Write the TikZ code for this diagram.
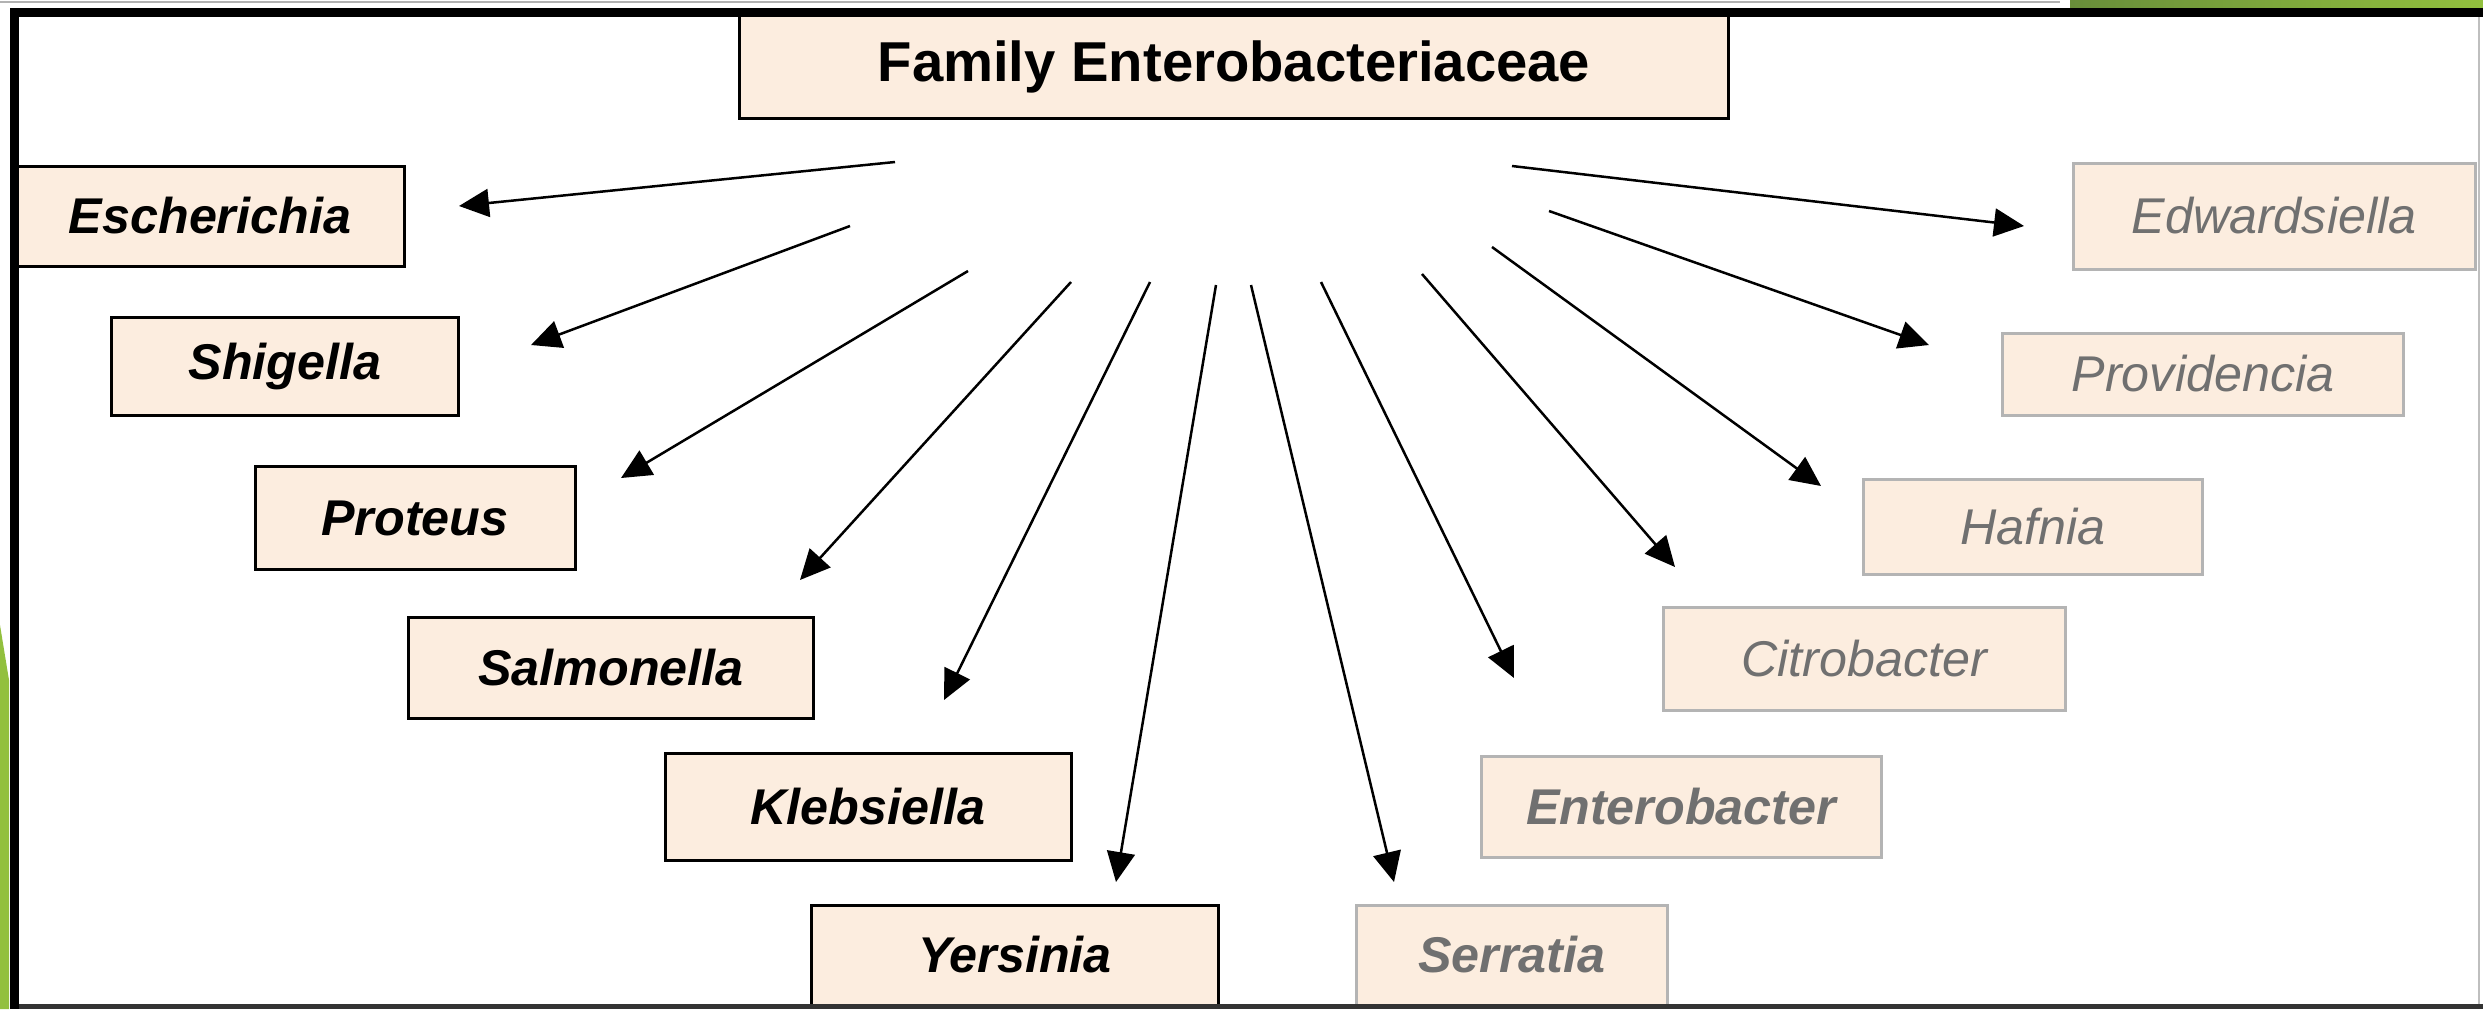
\documentclass[tikz,border=0pt]{standalone}
\usepackage{fontspec}
\setmainfont{Liberation Sans}
\usetikzlibrary{arrows.meta}
\definecolor{peach}{RGB}{252,237,223}
\definecolor{fadegray}{RGB}{112,112,112}
\definecolor{boxgray}{RGB}{180,180,180}
\definecolor{slidegreen}{RGB}{146,192,62}
\definecolor{darkgreen}{RGB}{104,142,58}

\begin{document}
\begin{tikzpicture}[x=0.1mm, y=-0.1mm,
    fam/.style={draw=black, line width=0.3mm, fill=peach, inner sep=0pt,
      font=\fontsize{16}{19}\selectfont\bfseries},
    genus/.style={draw=black, line width=0.3mm, fill=peach, inner sep=0pt,
      font=\fontsize{14.3}{17}\selectfont\bfseries\itshape},
    faded/.style={draw=boxgray, line width=0.3mm, fill=peach, inner sep=0pt,
      text=fadegray, font=\fontsize{14.3}{17}\selectfont\itshape},
    spoke/.style={line width=0.25mm, -{Triangle[length=3mm, width=2.8mm]}}]
      \useasboundingbox (0,0) rectangle (2483,1009);

      % slide decoration
      \draw[gray!60, line width=0.2mm] (0,2) -- (2060,2);
      \fill[left color=darkgreen, right color=slidegreen] (2070,0) rectangle (2483,9);
      \fill[slidegreen] (0,625) -- (9,680) -- (9,1009) -- (0,1009) -- cycle;

      % boxes
      \node[fam, minimum width=98.9mm, minimum height=10.3mm] (family) at (1234,67) {Family Enterobacteriaceae};

      \node[genus, minimum width=38.8mm, minimum height=10mm] (esch) at (210,216) {Escherichia};
      \node[genus, minimum width=34.7mm, minimum height=9.8mm] (shig) at (285,366) {Shigella};
      \node[genus, minimum width=32mm, minimum height=10.3mm] (prot) at (415,518) {Proteus};
      \node[genus, minimum width=40.5mm, minimum height=10.1mm] (salm) at (611,668) {Salmonella};
      \node[genus, minimum width=40.6mm, minimum height=10.7mm] (kleb) at (868,807) {Klebsiella};
      \node[genus, minimum width=40.7mm, minimum height=10mm] (yers) at (1015,955) {Yersinia};

      \node[faded, minimum width=40.2mm, minimum height=10.6mm] (edwa) at (2274,216) {Edwardsiella};
      \node[faded, minimum width=40.1mm, minimum height=8.2mm] (prov) at (2203,374) {Providencia};
      \node[faded, minimum width=33.9mm, minimum height=9.5mm] (hafn) at (2033,527) {Hafnia};
      \node[faded, minimum width=40.2mm, minimum height=10.3mm] (citr) at (1864,659) {Citrobacter};
      \node[faded, minimum width=40mm, minimum height=10.1mm, font=\fontsize{14.3}{17}\selectfont\bfseries\itshape] (entb) at (1681,807) {Enterobacter};
      \node[faded, minimum width=31.1mm, minimum height=10mm, font=\fontsize{14.3}{17}\selectfont\bfseries\itshape] (serr) at (1512,955) {Serratia};

      % arrow ends
      \coordinate (esch-s) at (895,162);  \coordinate (esch-t) at (459,206);
      \coordinate (shig-s) at (850,226);  \coordinate (shig-t) at (531,345);
      \coordinate (prot-s) at (968,271);  \coordinate (prot-t) at (621,478);
      \coordinate (salm-s) at (1071,282); \coordinate (salm-t) at (800,580);
      \coordinate (kleb-s) at (1150,282); \coordinate (kleb-t) at (944,700);
      \coordinate (yers-s) at (1216,285); \coordinate (yers-t) at (1116,882);
      \coordinate (serr-s) at (1251,285); \coordinate (serr-t) at (1394,882);
      \coordinate (entb-s) at (1321,282); \coordinate (entb-t) at (1514,678);
      \coordinate (citr-s) at (1422,274); \coordinate (citr-t) at (1675,567);
      \coordinate (hafn-s) at (1492,247); \coordinate (hafn-t) at (1821,486);
      \coordinate (prov-s) at (1549,211); \coordinate (prov-t) at (1929,345);
      \coordinate (edwa-s) at (1512,166); \coordinate (edwa-t) at (2024,226);

      \draw[spoke] (esch-s) -- (esch-t);
      \draw[spoke] (shig-s) -- (shig-t);
      \draw[spoke] (prot-s) -- (prot-t);
      \draw[spoke] (salm-s) -- (salm-t);
      \draw[spoke] (kleb-s) -- (kleb-t);
      \draw[spoke] (yers-s) -- (yers-t);
      \draw[spoke] (serr-s) -- (serr-t);
      \draw[spoke] (entb-s) -- (entb-t);
      \draw[spoke] (citr-s) -- (citr-t);
      \draw[spoke] (hafn-s) -- (hafn-t);
      \draw[spoke] (prov-s) -- (prov-t);
      \draw[spoke] (edwa-s) -- (edwa-t);

      % frame
      \draw[gray!50, line width=0.2mm] (2479,12) -- (2479,1009);
      \draw[black!80, line width=0.5mm] (14,1006.5) -- (2483,1006.5);
      \draw[line width=0.9mm] (10,12.5) -- (2483,12.5);
      \draw[line width=0.9mm] (14.5,8) -- (14.5,1009);
    \end{tikzpicture}
\end{document}
